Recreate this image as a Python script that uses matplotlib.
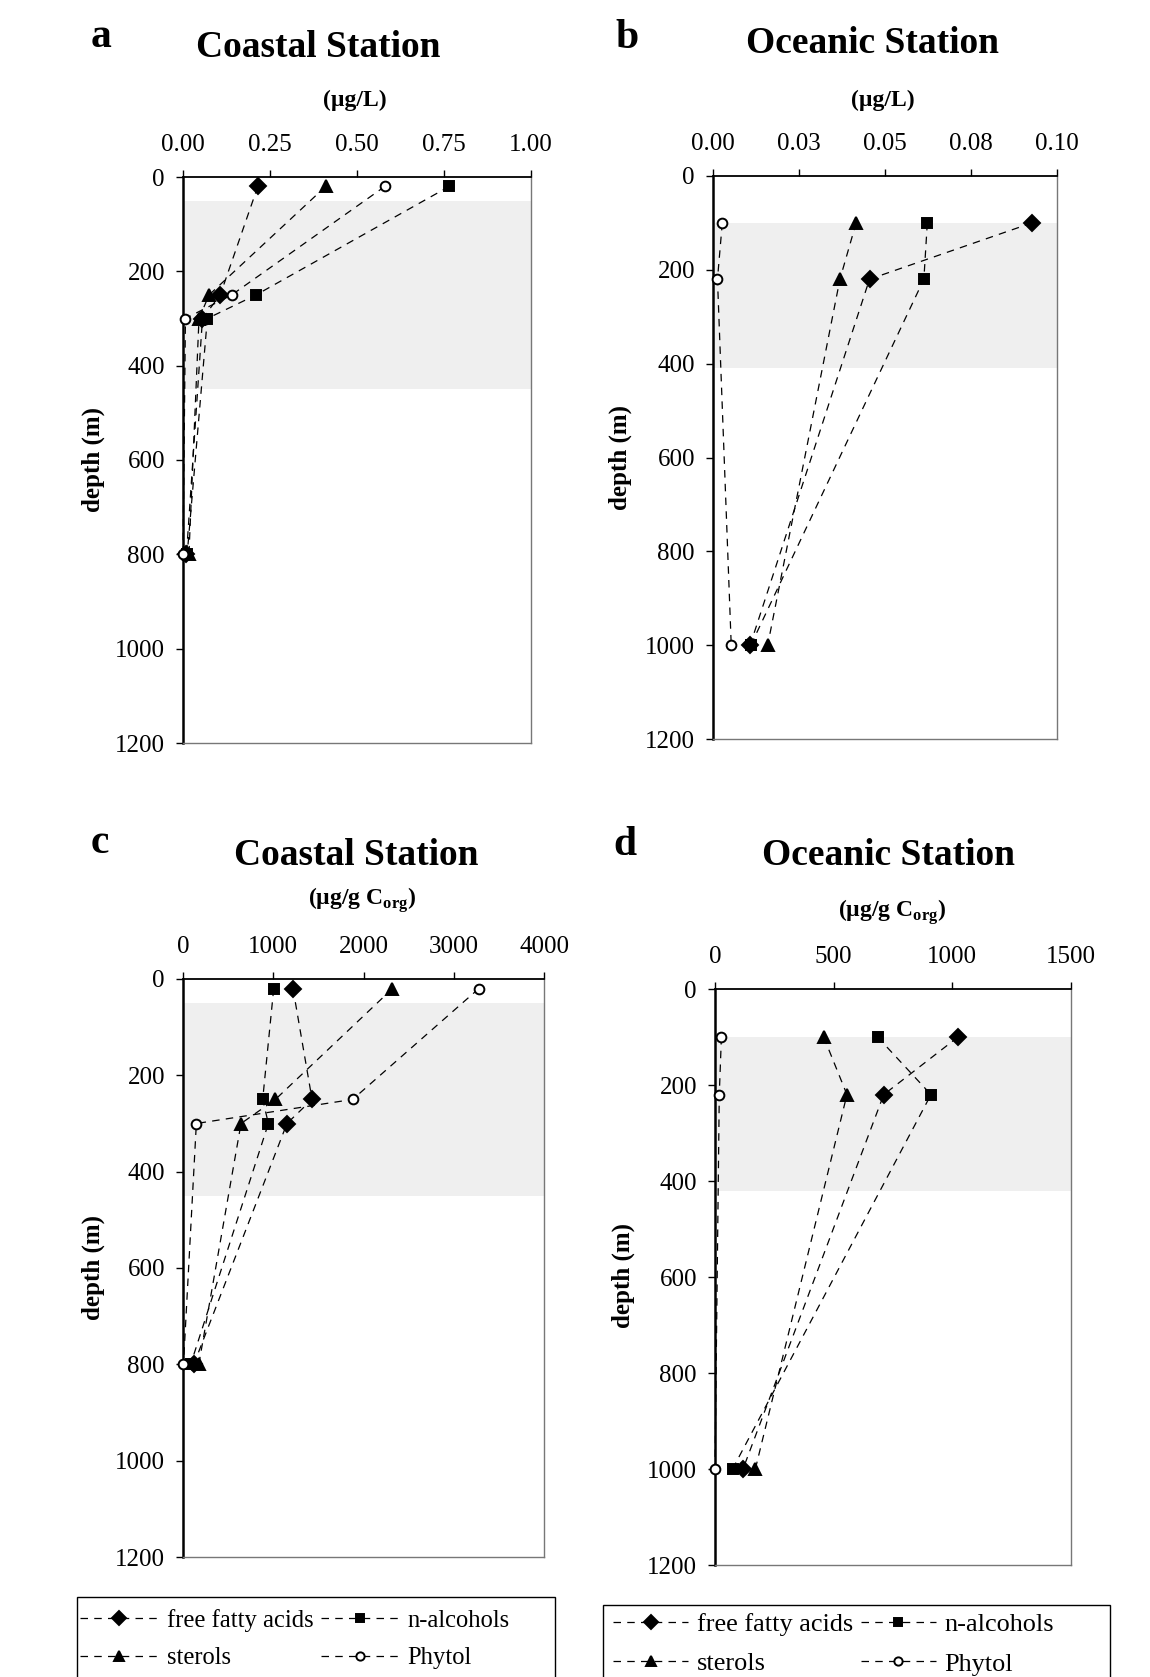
import matplotlib.pyplot as plt
from matplotlib.patches import Rectangle

W, H = 1150, 1677

# depths (m)
depth_coastal = [20, 250, 300, 800]
depth_oceanic = [100, 220, 1000]

# a: coastal, ug/L
a_ffa = [0.215, 0.107, 0.056, 0.010]
a_alc = [0.765, 0.210, 0.070, 0.012]
a_ster = [0.410, 0.075, 0.046, 0.017]
a_phyt = [0.580, 0.140, 0.007, 0.0]

# b: oceanic, ug/L
b_ffa = [0.0927, 0.0455, 0.0108]
b_alc = [0.0623, 0.0613, 0.0110]
b_ster = [0.0416, 0.0369, 0.0159]
b_phyt = [0.0027, 0.0013, 0.0053]

# c: coastal, ug/g Corg
c_ffa = [1219, 1430, 1152, 120]
c_alc = [1005, 883, 946, 85]
c_ster = [2320, 1024, 643, 175]
c_phyt = [3277, 1880, 148, 5]

# d: oceanic, ug/g Corg
d_ffa = [1024, 711, 118]
d_alc = [685, 910, 74]
d_ster = [458, 556, 170]
d_phyt = [27, 18, 0]

# shaded layer (m)
coastal_layer = [50, 450]
oceanic_layer_b = [100, 410]
oceanic_layer_d = [100, 420]

names = ['free fatty acids', 'sterols', 'n-alcohols', 'Phytol']
a_ticks = [0, 0.25, 0.5, 0.75, 1.0]
a_labels = ['0.00', '0.25', '0.50', '0.75', '1.00']
b_ticks = [0, 0.025, 0.05, 0.075, 0.1]
b_labels = ['0.00', '0.03', '0.05', '0.08', '0.10']
c_ticks = [0, 1000, 2000, 3000, 4000]
d_ticks = [0, 500, 1000, 1500]
y_ticks = [0, 200, 400, 600, 800, 1000, 1200]

plt.rcParams['font.family'] = 'Liberation Serif'
plt.rcParams['mathtext.fontset'] = 'custom'
plt.rcParams['mathtext.rm'] = 'Liberation Serif:bold'

fig = plt.figure(figsize=(W / 100, H / 100), dpi=100)


def box(l, t, r, b):
    return [l / W, 1 - b / H, (r - l) / W, (b - t) / H]


def panel(rect, depths, series, layer, xticks, xlabels, xmax):
    ax = fig.add_axes(rect)
    ax.axhspan(layer[0], layer[1], color='#efefef', zorder=0, lw=0)
    styles = [('D', 'k', 8), ('^', 'k', 9), ('s', 'k', 7.5), ('o', 'white', 7)]
    lines = []
    for vals, name, (m, fc, ms) in zip(series, names, styles):
        ln, = ax.plot(vals, depths, color='k', lw=0.9, ls=(0, (6, 5)),
                      marker=m, ms=ms, mfc=fc, mec='k', mew=1.4,
                      label=name, clip_on=False, zorder=3)
        lines.append(ln)
    ax.set_xlim(0, xmax)
    ax.set_ylim(1200, 0)
    ax.xaxis.tick_top()
    ax.set_xticks(xticks)
    ax.set_xticklabels(xlabels)
    ax.set_yticks(y_ticks)
    ax.tick_params(axis='x', direction='out', length=5, width=1, pad=10, labelsize=18)
    ax.tick_params(axis='y', direction='out', length=5, width=1, pad=8, labelsize=18)
    ax.spines['left'].set_linewidth(1.8)
    ax.spines['top'].set_linewidth(1.3)
    for s in ['right', 'bottom']:
        ax.spines[s].set_color('#777777')
        ax.spines[s].set_linewidth(1.0)
    return ax, lines


ax_a, _ = panel(box(183, 177, 531, 743), depth_coastal,
                [a_ffa, a_ster, a_alc, a_phyt], coastal_layer, a_ticks, a_labels, 1.0)
ax_b, _ = panel(box(713, 176, 1057, 739), depth_oceanic,
                [b_ffa, b_ster, b_alc, b_phyt], oceanic_layer_b, b_ticks, b_labels, 0.1)
ax_c, lines_c = panel(box(183, 979, 544, 1557), depth_coastal,
                      [c_ffa, c_ster, c_alc, c_phyt], coastal_layer, c_ticks,
                      [str(t) for t in c_ticks], 4000)
ax_d, lines_d = panel(box(715, 989, 1071, 1565), depth_oceanic,
                      [d_ffa, d_ster, d_alc, d_phyt], oceanic_layer_d, d_ticks,
                      [str(t) for t in d_ticks], 1500)


def ftext(x, y, s, **kw):
    fig.text(x / W, 1 - y / H, s, **kw)


bold = dict(fontweight='bold')
# panel letters
for x, y, s in [(101, 47, 'a'), (627, 48, 'b'), (100, 853, 'c'), (625, 855, 'd')]:
    ftext(x, y, s, ha='center', va='baseline', fontsize=30, **bold)
# titles
for x, y, s in [(318, 57, 'Coastal Station'), (873, 53, 'Oceanic Station'),
                (356, 865, 'Coastal Station'), (888, 865, 'Oceanic Station')]:
    ftext(x, y, s, ha='center', va='baseline', fontsize=27, **bold)
# units
ftext(355, 100, '(µg/L)', ha='center', va='center', fontsize=17, **bold)
ftext(883, 100, '(µg/L)', ha='center', va='center', fontsize=17, **bold)
ftext(362, 900, r'(µg/g C$_{\rm org}$)', ha='center', va='center', fontsize=17, **bold)
ftext(892, 912, r'(µg/g C$_{\rm org}$)', ha='center', va='center', fontsize=17, **bold)
# y labels
for x, y in [(93, 460), (620, 458), (93, 1268), (623, 1276)]:
    ftext(x, y, 'depth (m)', ha='center', va='center', rotation=90, fontsize=18, **bold)


def legend(ax, handles, x0, y0, fs, hl, ls, frame):
    leg = ax.legend(handles=handles, loc='upper left', ncol=2, fontsize=fs,
                    frameon=False, numpoints=1, handlelength=hl, markerscale=0.85,
                    handletextpad=0.33, columnspacing=0.3, labelspacing=ls,
                    borderpad=0, borderaxespad=0,
                    bbox_to_anchor=(x0 / W, 1 - y0 / H),
                    bbox_transform=fig.transFigure)
    l, t, r = frame
    fig.patches.append(Rectangle((l / W, -0.05), (r - l) / W, 1 - t / H + 0.05,
                                 transform=fig.transFigure, fill=False,
                                 edgecolor='k', lw=1.0))
    return leg


legend(ax_c, lines_c, 80, 1609, 17.7, 3.2, 0.62, (77, 1597, 555))
legend(ax_d, lines_d, 613, 1613, 18.9, 2.86, 0.6, (603, 1605, 1110))

fig.savefig('out.png', dpi=100)
